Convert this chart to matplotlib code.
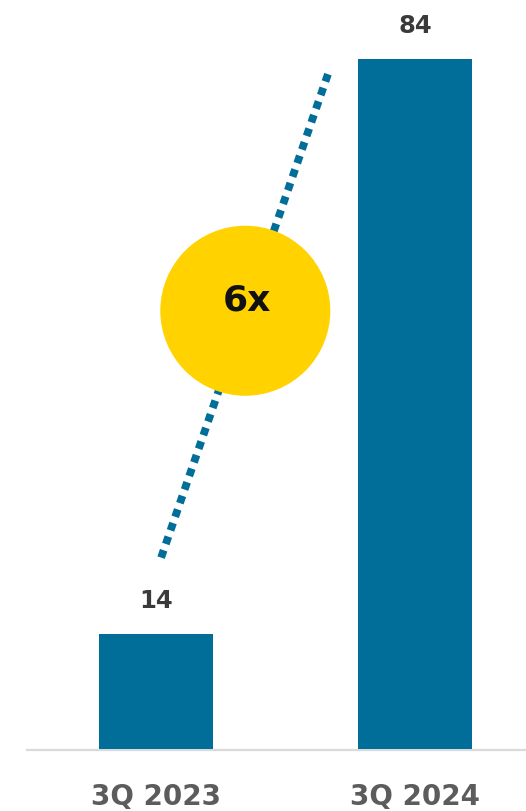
import matplotlib
matplotlib.use("Agg")
import matplotlib.pyplot as plt
from matplotlib.patches import Ellipse

categories = ["3Q 2023", "3Q 2024"]
values = [14, 84]
multiple_label = "6x"

BAR_COLOR = "#006E99"
YELLOW = "#FFD200"
NUM_COLOR = "#3A3A3A"
CAT_COLOR = "#5C5C5C"

W, H, DPI = 526, 811, 100
fig = plt.figure(figsize=(W / DPI, H / DPI), dpi=DPI)
ax = fig.add_axes([0, 0, 1, 1])
ax.set_xlim(-0.602, 1.4286)
ax.set_ylim(-7.55, 91.18)
ax.axis("off")

x = list(range(len(categories)))
ax.bar(x, values, width=0.44, color=BAR_COLOR, zorder=2)

# baseline
ax.axhline(-0.15, xmin=27 / W, xmax=1, color="#DADADA", lw=1.6, zorder=1)

# value labels above bars
for xi, v in zip(x, values):
    ax.text(xi, v + 2.5, str(v), ha="center", va="bottom", fontsize=17.5,
            fontweight="bold", color=NUM_COLOR, family="DejaVu Sans")

# category labels below baseline
for xi, c in zip(x, categories):
    ax.text(xi, -5.85, c, ha="center", va="center", fontsize=20,
            fontweight="bold", color=CAT_COLOR, family="DejaVu Sans")

# dotted growth connector
x0, y0 = x[0] + 0.02, values[0] + 9.3
x1, y1 = x[0] + 0.67, values[1] - 1.3
ax.plot([x0, x1], [y0, y1], color=BAR_COLOR, lw=5.6,
        dashes=(1.0, 0.85), solid_capstyle="butt", dash_capstyle="butt", zorder=3)

# multiple badge
cx, cy = (x0 + x1) / 2, (y0 + y1) / 2 + 0.35
circ = Ellipse((cx, cy), width=170 / 259, height=170 / 8.214, color=YELLOW, zorder=4, lw=0)
ax.add_patch(circ)
ax.text(cx + 0.005, cy + 1.2, multiple_label, ha="center", va="center", fontsize=26,
        fontweight="heavy", color="#111111", family="DejaVu Sans", zorder=5)

fig.savefig("out.png", dpi=DPI)
